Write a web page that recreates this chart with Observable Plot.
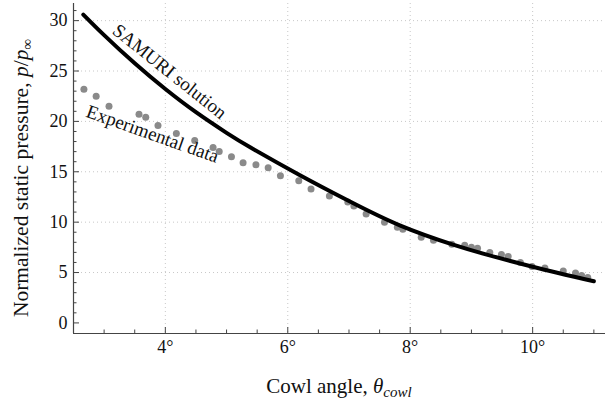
<!DOCTYPE html>
<html>
<head>
<meta charset="utf-8">
<script src="https://cdn.jsdelivr.net/npm/d3@7"></script>
<script src="https://cdn.jsdelivr.net/npm/@observablehq/plot@0.6"></script>
<style>
  html, body { margin: 0; padding: 0; background: white; }
  svg { display: block; }
</style>
</head>
<body>
<div id="chart"></div>
<script>
// Experimental data (cowl angle in degrees, normalized static pressure)
const expAngle = [2.67, 2.87, 3.08, 3.57, 3.68, 3.88, 4.18, 4.48, 4.78, 4.88, 5.08, 5.27, 5.48, 5.68,
                  5.88, 6.18, 6.38, 6.68, 6.98, 7.08, 7.28, 7.58, 7.79, 7.88, 8.18, 8.38, 8.68, 8.89,
                  9.0, 9.1, 9.3, 9.49, 9.6, 9.8, 9.99, 10.2, 10.5, 10.7, 10.8, 10.9];
const expPressure = [23.2, 22.5, 21.5, 20.7, 20.4, 19.6, 18.8, 18.1, 17.4, 17.0, 16.5, 15.9, 15.7, 15.4,
                     14.6, 14.1, 13.3, 12.6, 12.0, 11.6, 10.8, 10.0, 9.5, 9.3, 8.5, 8.2, 7.8, 7.7,
                     7.5, 7.4, 7.0, 6.8, 6.6, 6.0, 5.6, 5.45, 5.15, 4.95, 4.7, 4.5];

// SAMURI solution
const samuriAngle    = [2.66, 3.0, 3.5, 4.0, 4.5, 5.0, 5.4, 6.2, 7.0, 7.84, 8.7, 9.25, 10.0, 11.0];
const samuriPressure = [30.6, 28.56, 25.76, 23.21, 20.91, 18.86, 17.38, 14.66, 12.1, 9.66, 7.77, 6.78, 5.58, 4.13];

// Axes
const xDomain = [2.5, 11.19];
const yDomain = [-1.05, 31.7];
const xMajor = [4, 6, 8, 10];
const xMinor = [3, 3.5, 4.5, 5, 5.5, 6.5, 7, 7.5, 8.5, 9, 9.5, 10.5, 11];
const yMajor = [0, 5, 10, 15, 20, 25, 30];
const yGrid = [5, 10, 15, 20, 25, 30];
const yMinor = [1, 2, 3, 4, 6, 7, 8, 9, 11, 12, 13, 14, 16, 17, 18, 19, 21, 22, 23, 24, 26, 27, 28, 29, 31];

// Annotations
const labels = [
  {text: "SAMURI solution", x: 4.07, y: 24.95, rotate: 38.6},
  {text: "Experimental data", x: 3.79, y: 18.75, rotate: 19.5}
];

const expData = expAngle.map((a, i) => ({a, p: expPressure[i]}));
const samuri = samuriAngle.map((a, i) => ({a, p: samuriPressure[i]}));

const W = 605, H = 402, mL = 73, mR = 0, mT = 3, mB = 69;
const plotH = H - mT - mB, plotW = W - mL - mR;
const axisColor = "#444";

const chart = Plot.plot({
  width: W, height: H,
  marginLeft: mL, marginRight: mR, marginTop: mT, marginBottom: mB,
  x: {domain: xDomain},
  y: {domain: yDomain},
  style: {fontFamily: "'Liberation Serif', 'Times New Roman', serif", fontSize: "18px", background: "white", color: "#111"},
  marks: [
    Plot.gridX(xMajor, {stroke: "#c8c8c8", strokeOpacity: 1, strokeDasharray: "1,3"}),
    Plot.gridY(yGrid, {stroke: "#c8c8c8", strokeOpacity: 1, strokeDasharray: "1,3"}),
    Plot.dot(expData, {x: "a", y: "p", r: 3.5, fill: "#8a8a8a", stroke: "none"}),
    Plot.line(samuri, {x: "a", y: "p", stroke: "black", strokeWidth: 4, curve: "natural"}),
    Plot.text(labels, {x: "x", y: "y", text: "text", rotate: "rotate", fontSize: 19, fill: "#111"}),
    // inward ticks
    Plot.ruleX(xMajor, {stroke: axisColor, insetTop: plotH - 6}),
    Plot.ruleX(xMinor, {stroke: axisColor, insetTop: plotH - 3.5}),
    Plot.ruleY(yMajor, {stroke: axisColor, insetRight: plotW - 6}),
    Plot.ruleY(yMinor, {stroke: axisColor, insetRight: plotW - 3.5}),
    // axis lines
    Plot.ruleY([yDomain[0]], {stroke: axisColor, strokeWidth: 1.2}),
    Plot.ruleX([xDomain[0]], {stroke: axisColor, strokeWidth: 1.2}),
    Plot.axisX(xMajor, {tickSize: 0, tickPadding: 7, tickFormat: d => d + "°", label: null, fontSize: 18}),
    Plot.axisY(yMajor, {tickSize: 0, tickPadding: 6, label: null, fontSize: 18})
  ]
});

document.getElementById("chart").appendChild(chart);

// Axis titles with italic math
const svg = d3.select(chart);
const ff = "'Liberation Serif', 'Times New Roman', serif";
const xt = svg.append("text")
  .attr("x", 339).attr("y", 393)
  .attr("text-anchor", "middle")
  .attr("font-family", ff).attr("font-size", 21).attr("fill", "#111");
xt.append("tspan").text("Cowl angle, ");
xt.append("tspan").attr("font-style", "italic").text("θ");
xt.append("tspan").attr("font-style", "italic").attr("font-size", 15).attr("dy", 4).text("cowl");

const yt = svg.append("text")
  .attr("transform", "translate(27.5,178) rotate(-90)")
  .attr("text-anchor", "middle")
  .attr("font-family", ff).attr("font-size", 21.5).attr("fill", "#111");
yt.append("tspan").text("Normalized static pressure, ");
yt.append("tspan").attr("font-style", "italic").text("p");
yt.append("tspan").text("/");
yt.append("tspan").attr("font-style", "italic").text("p");
yt.append("tspan").attr("font-size", 15).attr("dy", 4).text("∞");
</script>
</body>
</html>
